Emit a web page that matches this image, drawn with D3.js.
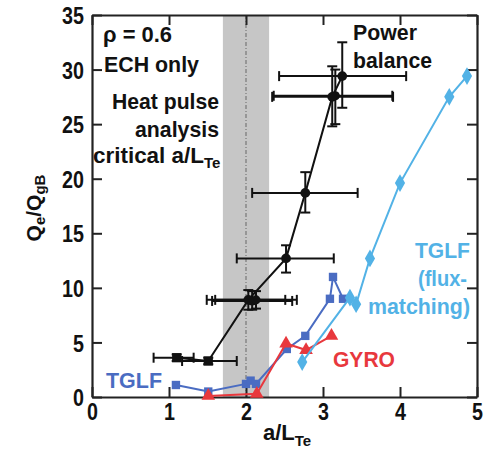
<!DOCTYPE html>
<html><head><meta charset="utf-8">
<script src="https://cdn.jsdelivr.net/npm/d3@7"></script>
<style>
html,body{margin:0;padding:0;background:#fff;}
svg{display:block;}
text{font-family:"Liberation Sans",Arial,Helvetica,sans-serif;font-weight:bold;}
</style></head>
<body><svg id="c" width="490" height="453"></svg>
<script>
// ---- data ----
const xTicks = [0,1,2,3,4,5];
const yTicks = [0,5,10,15,20,25,30,35];
const band = [1.7, 2.3];
const critLine = 2.0;

// Power balance (black)
const pbX   = [1.10, 1.51, 2.03, 2.52, 2.77, 3.12, 3.25];
const pbY   = [3.6, 3.3, 8.9, 12.7, 18.7, 27.5, 29.4];
const pbXLo = [0.80, 1.17, 1.49, 1.88, 2.08, 2.34, 2.43];
const pbXHi = [1.32, 1.88, 2.51, 3.14, 3.45, 3.91, 4.08];
const pbYLo = [3.3, 3.0, 8.0, 11.4, 16.9, 24.8, 26.5];
const pbYHi = [3.9, 3.6, 9.8, 13.9, 20.6, 30.3, 32.5];
const pbShape = ["square","square","circle","circle","circle","circle","circle"];
// extra power-balance points (not connected)
const exX   = [2.08, 2.13, 3.16];
const exY   = [8.8, 8.9, 27.6];
const exXLo = [1.56, 1.60, 2.36];
const exXHi = [2.60, 2.66, 3.90];
const exYLo = [8.0, 8.1, 25.0];
const exYHi = [9.7, 9.7, 30.0];

// TGLF (dark blue squares)
const tgX = [1.09, 1.51, 2.00, 2.06, 2.13, 2.53, 2.77, 3.09, 3.13, 3.26];
const tgY = [1.1, 0.5, 1.2, 1.5, 1.2, 4.4, 5.6, 9.0, 11.0, 9.0];
// GYRO (red triangles)
const gyX = [1.51, 2.14, 2.52, 2.78, 3.11];
const gyY = [0.1, 0.3, 4.9, 4.3, 5.6];
// TGLF flux-matching (light blue diamonds)
const fmX = [2.73, 3.35, 3.43, 3.61, 4.00, 4.64, 4.87];
const fmY = [3.2, 9.1, 8.5, 12.7, 19.6, 27.5, 29.4];

const cBlack = "#111", cBlue = "#4a6cc2", cRed = "#e8383d", cLight = "#52b2e6";

// ---- chart ----
const svg = d3.select("#c");
const x = d3.scaleLinear().domain([0,5]).range([92,477]);
const y = d3.scaleLinear().domain([0,35]).range([397,15]);

// band
svg.append("rect").attr("x", x(band[0])).attr("y", y(35))
  .attr("width", x(band[1]) - x(band[0])).attr("height", y(0) - y(35))
  .attr("fill", "#c6c6c6");
svg.append("line").attr("x1", x(critLine)).attr("x2", x(critLine))
  .attr("y1", y(35)).attr("y2", y(0))
  .attr("stroke", "#777").attr("stroke-width", 1.2).attr("stroke-dasharray", "4,2,1,2");

// axes
const axFont = g => g.selectAll("text").attr("font-size", 24).attr("fill", "#111")
  .attr("font-family", '"Liberation Sans",Arial,sans-serif').attr("font-weight", "bold");
const gx = svg.append("g").attr("transform", `translate(0,${y(0)})`)
  .call(d3.axisBottom(x).tickValues(xTicks).tickFormat(d3.format("d")).tickSize(-10).tickSizeOuter(0).tickPadding(5));
gx.call(axFont);
gx.selectAll("text").attr("dy", "0.74em");
const gy = svg.append("g").attr("transform", `translate(${x(0)},0)`)
  .call(d3.axisLeft(y).tickValues(yTicks).tickFormat(d3.format("d")).tickSize(-10).tickSizeOuter(0).tickPadding(8));
gy.call(axFont);
gy.selectAll("text").attr("dy", "0.36em");
svg.append("g").attr("transform", `translate(0,${y(35)})`)
  .call(d3.axisTop(x).tickValues(xTicks).tickFormat("").tickSize(-10).tickSizeOuter(0));
svg.append("g").attr("transform", `translate(${x(5)},0)`)
  .call(d3.axisRight(y).tickValues(yTicks).tickFormat("").tickSize(-10).tickSizeOuter(0));
svg.selectAll(".domain").attr("stroke", "#222").attr("stroke-width", 2.2);
svg.selectAll(".tick line").attr("stroke", "#222").attr("stroke-width", 2);
// condense tick labels
svg.selectAll(".tick text").each(function(){
  const w = this.getComputedTextLength();
  d3.select(this).attr("textLength", w * 0.82).attr("lengthAdjust", "spacingAndGlyphs");
});

const line = d3.line().x(d => x(d[0])).y(d => y(d[1]));
const zip = (a, b) => a.map((v, i) => [v, b[i]]);

// TGLF
svg.append("path").datum(zip(tgX, tgY)).attr("d", line).attr("fill", "none")
  .attr("stroke", cBlue).attr("stroke-width", 2);
svg.append("g").selectAll("path").data(zip(tgX, tgY)).join("path")
  .attr("d", d3.symbol(d3.symbolSquare, 70)).attr("transform", d => `translate(${x(d[0])},${y(d[1])})`)
  .attr("fill", cBlue);

// GYRO
svg.append("path").datum(zip(gyX, gyY)).attr("d", line).attr("fill", "none")
  .attr("stroke", cRed).attr("stroke-width", 2);
svg.append("g").selectAll("path").data(zip(gyX, gyY)).join("path")
  .attr("d", d3.symbol(d3.symbolTriangle, 80)).attr("transform", d => `translate(${x(d[0])},${y(d[1])})`)
  .attr("fill", cRed);

// flux-matching
svg.append("path").datum(zip(fmX, fmY)).attr("d", line).attr("fill", "none")
  .attr("stroke", cLight).attr("stroke-width", 2);
svg.append("g").selectAll("path").data(zip(fmX, fmY)).join("path")
  .attr("d", d3.symbol(d3.symbolDiamond, 90)).attr("transform", d => `translate(${x(d[0])},${y(d[1])})`)
  .attr("fill", cLight);

// power balance error bars
function errBars(X, Y, XL, XH, YL, YH) {
  const g = svg.append("g").attr("stroke", cBlack).attr("stroke-width", 2).attr("fill", "none");
  X.forEach((xv, i) => {
    const cx = x(xv), cy = y(Y[i]);
    g.append("line").attr("x1", x(XL[i])).attr("x2", x(XH[i])).attr("y1", cy).attr("y2", cy);
    g.append("line").attr("x1", x(XL[i])).attr("x2", x(XL[i])).attr("y1", cy - 5).attr("y2", cy + 5);
    g.append("line").attr("x1", x(XH[i])).attr("x2", x(XH[i])).attr("y1", cy - 5).attr("y2", cy + 5);
    g.append("line").attr("x1", cx).attr("x2", cx).attr("y1", y(YL[i])).attr("y2", y(YH[i]));
    g.append("line").attr("x1", cx - 5).attr("x2", cx + 5).attr("y1", y(YL[i])).attr("y2", y(YL[i]));
    g.append("line").attr("x1", cx - 5).attr("x2", cx + 5).attr("y1", y(YH[i])).attr("y2", y(YH[i]));
  });
}
errBars(exX, exY, exXLo, exXHi, exYLo, exYHi);
errBars(pbX, pbY, pbXLo, pbXHi, pbYLo, pbYHi);
svg.append("path").datum(zip(pbX, pbY)).attr("d", line).attr("fill", "none")
  .attr("stroke", cBlack).attr("stroke-width", 2);
svg.append("g").selectAll("path").data(zip(exX, exY)).join("path")
  .attr("d", d3.symbol(d3.symbolCircle, 65)).attr("transform", d => `translate(${x(d[0])},${y(d[1])})`)
  .attr("fill", cBlack);
svg.append("g").selectAll("path").data(pbX.map((v, i) => [v, pbY[i], pbShape[i]])).join("path")
  .attr("d", d => d3.symbol(d[2] === "square" ? d3.symbolSquare : d3.symbolCircle, d[2] === "square" ? 85 : 75)())
  .attr("transform", d => `translate(${x(d[0])},${y(d[1])})`)
  .attr("fill", cBlack);

// annotations
function label(txt, px, py, opts) {
  const t = svg.append("text").attr("x", px).attr("y", py)
    .attr("font-size", opts.size || 22).attr("fill", opts.color || "#111")
    .attr("text-anchor", opts.anchor || "start");
  t.append("tspan").text(txt);
  if (opts.width) t.attr("textLength", opts.width).attr("lengthAdjust", "spacingAndGlyphs");
  return t;
}
label("ρ = 0.6", 103, 42, {width: 69});
label("ECH only", 104, 72, {width: 95});
label("Heat pulse", 219, 109, {anchor: "end", width: 107});
label("analysis", 219, 137, {anchor: "end", width: 84});
label("critical a/L", 204, 163, {anchor: "end", width: 111});
label("Te", 204, 168, {size: 15});
label("Power", 353, 40, {width: 64});
label("balance", 353, 68, {width: 79});
label("TGLF", 106, 388, {color: cBlue, width: 56});
label("GYRO", 333, 367, {color: cRed, width: 62});
label("TGLF", 470, 258, {color: cLight, anchor: "end", width: 55});
label("(flux-", 467, 286, {color: cLight, anchor: "end", width: 49});
label("matching)", 470, 314, {color: cLight, anchor: "end", width: 102});

// axis titles
const xt = svg.append("text").attr("x", 263).attr("y", 440).attr("font-size", 22).attr("fill", "#111");
xt.append("tspan").text("a/L");
xt.append("tspan").attr("font-size", 15).attr("dy", 6).text("Te");

const yt = svg.append("text").attr("transform", "translate(41,208) rotate(-90)")
  .attr("text-anchor", "middle").attr("font-size", 21).attr("fill", "#111");
yt.append("tspan").text("Q");
yt.append("tspan").attr("font-size", 15).attr("dy", 4).text("e");
yt.append("tspan").attr("dy", -4).text("/Q");
yt.append("tspan").attr("font-size", 15).attr("dy", 4).text("gB");
</script></body></html>
